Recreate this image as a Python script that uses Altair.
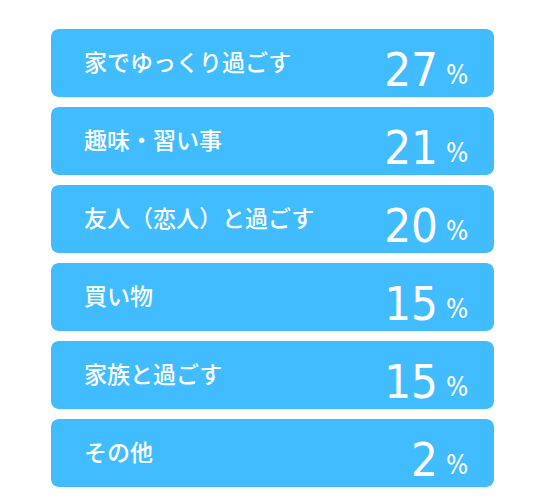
import altair as alt
import pandas as pd

labels = ["家でゆっくり過ごす", "趣味・習い事", "友人（恋人）と過ごす", "買い物", "家族と過ごす", "その他"]
values = [27, 21, 20, 15, 15, 2]

df = pd.DataFrame({"label": labels, "value": values})
df["num"] = df["value"].astype(str)

BLUE = "#40BCFF"
W = 443
H = 458
NUM_FONT = "'Liberation Sans Narrow', 'DejaVu Sans Condensed', 'Roboto Condensed', Roboto, sans-serif"

y_enc = alt.Y(
    "label:N",
    sort=labels,
    axis=None,
    scale=alt.Scale(paddingInner=0.128, paddingOuter=0),
)

base = alt.Chart(df)

boxes = base.mark_bar(color=BLUE, cornerRadius=8).encode(
    x=alt.value(0),
    x2=alt.value(W),
    y=y_enc,
)

names = base.mark_text(
    align="left",
    baseline="middle",
    color="white",
    font="Noto Sans CJK JP",
    fontSize=23,
    fontWeight=500,
    dy=1,
).encode(x=alt.value(33), y=y_enc, text="label:N")

nums = base.mark_text(
    align="right",
    baseline="alphabetic",
    color="white",
    font=NUM_FONT,
    fontSize=47,
    dy=23,
).encode(x=alt.value(387), y=y_enc, text="num:N")

pct = base.mark_text(
    align="left",
    baseline="alphabetic",
    color="white",
    font=NUM_FONT,
    fontSize=26,
    dy=21,
).encode(x=alt.value(395), y=y_enc, text=alt.value("%"))

chart = (
    alt.layer(boxes, names, nums, pct)
    .properties(
        width=W,
        height=H,
        padding={"left": 43, "top": 20, "right": 0, "bottom": 0},
        background="white",
    )
    .configure_view(stroke=None)
)

chart.save("out.html", embed_options={"renderer": "svg", "actions": False})
